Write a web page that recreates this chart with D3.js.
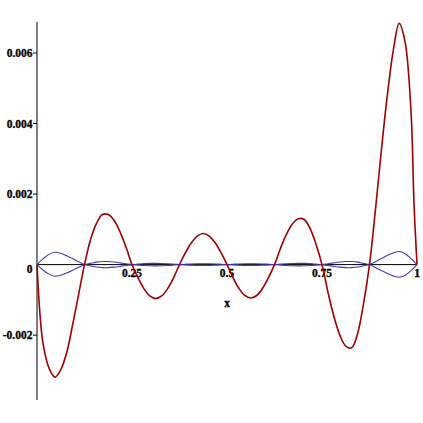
<!DOCTYPE html>
<html>
<head>
<meta charset="utf-8">
<script src="https://cdn.jsdelivr.net/npm/d3@7"></script>
<style>
  html, body { margin: 0; padding: 0; background: #ffffff; }
  svg { display: block; }
</style>
</head>
<body>
<svg id="chart" width="423" height="423"></svg>
<script>
// ---- data ----
const redX = [0, 0.0078, 0.0156, 0.0313, 0.0469, 0.0625, 0.0781, 0.0938, 0.1094, 0.125,
  0.1406, 0.1563, 0.1719, 0.1875, 0.2031, 0.2188, 0.2344, 0.25,
  0.2656, 0.2813, 0.2969, 0.3125, 0.3281, 0.3438, 0.3594, 0.375,
  0.3906, 0.4063, 0.4219, 0.4375, 0.4531, 0.4688, 0.4844, 0.5,
  0.5156, 0.5313, 0.5469, 0.5625, 0.5781, 0.5938, 0.6094, 0.625,
  0.6406, 0.6563, 0.6719, 0.6875, 0.7031, 0.7188, 0.7344, 0.75,
  0.7656, 0.7813, 0.7969, 0.8125, 0.8281, 0.8438, 0.8594, 0.875,
  0.8906, 0.9063, 0.9219, 0.9375, 0.9531, 0.9688, 0.9844, 0.9922, 1];
const redY = [0, -0.0014, -0.00222, -0.00293, -0.00319, -0.00298, -0.0025, -0.0017, -0.00085, 0,
  0.0007, 0.00116, 0.00142, 0.00142, 0.00125, 0.00092, 0.00049, 0,
  -0.00037, -0.00068, -0.00089, -0.000965, -0.00089, -0.00068, -0.00037, 0,
  0.000337, 0.00062, 0.00081, 0.00088, 0.00081, 0.00062, 0.000337, 0,
  -0.000363, -0.00067, -0.000876, -0.000948, -0.000876, -0.00067, -0.000363, 0,
  0.000456, 0.000855, 0.00115, 0.0013, 0.00128, 0.00102, 0.00057, 0,
  -0.00078, -0.00147, -0.002, -0.00231, -0.00236, -0.00195, -0.0011, 0,
  0.00155, 0.00325, 0.0048, 0.00607, 0.00684, 0.0063, 0.0043, 0.0017, 0];

const blueX = [0, 0.0156, 0.0313, 0.0469, 0.0625, 0.0781, 0.0938, 0.1094, 0.125,
  0.1406, 0.1563, 0.1719, 0.1875, 0.2031, 0.2188, 0.2344, 0.25,
  0.2656, 0.2813, 0.2969, 0.3125, 0.3281, 0.3438, 0.3594, 0.375,
  0.3906, 0.4063, 0.4219, 0.4375, 0.4531, 0.4688, 0.4844, 0.5,
  0.5156, 0.5313, 0.5469, 0.5625, 0.5781, 0.5938, 0.6094, 0.625,
  0.6406, 0.6563, 0.6719, 0.6875, 0.7031, 0.7188, 0.7344, 0.75,
  0.7656, 0.7813, 0.7969, 0.8125, 0.8281, 0.8438, 0.8594, 0.875,
  0.8906, 0.9063, 0.9219, 0.9375, 0.9531, 0.9688, 0.9844, 1];
const blueA = [0, 0.00016, 0.00029, 0.00035, 0.00032, 0.00025, 0.00017, 0.00008, 0,
  -0.000035, -0.00007, -0.000086, -0.000086, -0.000072, -0.00005, -0.000025, 0,
  0.000014, 0.000027, 0.000034, 0.000035, 0.000032, 0.000025, 0.000013, 0,
  -0.00001, -0.000019, -0.000024, -0.000025, -0.000024, -0.000019, -0.00001, 0,
  0.00001, 0.000019, 0.000024, 0.000025, 0.000024, 0.000019, 0.00001, 0,
  -0.000013, -0.000025, -0.000032, -0.000035, -0.000034, -0.000027, -0.000014, 0,
  0.000025, 0.00005, 0.000072, 0.000086, 0.000086, 0.00007, 0.000035, 0,
  -0.00008, -0.00017, -0.00025, -0.00032, -0.00036, -0.0003, -0.00017, 0];
const blueB = [0, -0.00015, -0.00027, -0.00033, -0.0003, -0.00024, -0.00016, -0.00008, 0,
  0.000035, 0.00007, 0.000086, 0.000086, 0.000072, 0.00005, 0.000025, 0,
  -0.000014, -0.000027, -0.000034, -0.000035, -0.000032, -0.000025, -0.000013, 0,
  0.00001, 0.000019, 0.000024, 0.000025, 0.000024, 0.000019, 0.00001, 0,
  -0.00001, -0.000019, -0.000024, -0.000025, -0.000024, -0.000019, -0.00001, 0,
  0.000013, 0.000025, 0.000032, 0.000035, 0.000034, 0.000027, 0.000014, 0,
  -0.000025, -0.00005, -0.000072, -0.000086, -0.000086, -0.00007, -0.000035, 0,
  0.00008, 0.00017, 0.00026, 0.00033, 0.00037, 0.00031, 0.00017, 0];

const xTicks = [0.25, 0.5, 0.75, 1];
const xTickLabels = ["0.25", "0.5", "0.75", "1"];
const yTicks = [-0.002, 0.002, 0.004, 0.006];
const yTickLabels = ["-0.002", "0.002", "0.004", "0.006"];
const xTitle = "x";

// ---- drawing ----
const svg = d3.select("#chart");
const x = d3.scaleLinear().domain([0, 1]).range([37, 417]);
const y = d3.scaleLinear().domain([-0.00384, 0.00688]).range([400, 22]);

const font = "'Liberation Serif', 'Times New Roman', serif";

// x axis (black)
svg.append("line")
  .attr("x1", x(0)).attr("x2", x(1))
  .attr("y1", y(0)).attr("y2", y(0))
  .attr("stroke", "#000").attr("stroke-width", 1);

// y axis (gray)
svg.append("line")
  .attr("x1", x(0)).attr("x2", x(0))
  .attr("y1", y.range()[1]).attr("y2", y.range()[0])
  .attr("stroke", "#808080").attr("stroke-width", 2);

// y ticks and labels
const yg = svg.append("g");
yg.selectAll("line").data(yTicks).enter().append("line")
  .attr("x1", x(0) - 4).attr("x2", x(0))
  .attr("y1", d => y(d)).attr("y2", d => y(d))
  .attr("stroke", "#000").attr("stroke-width", 1);
yg.selectAll("text").data(yTicks).enter().append("text")
  .attr("x", x(0) - 4.5).attr("y", d => y(d))
  .attr("dy", "0.35em")
  .attr("text-anchor", "end")
  .attr("font-family", font).attr("font-weight", "bold").attr("font-size", "11.5px")
  .attr("stroke", "#000").attr("stroke-width", 0.3)
  .text((d, i) => yTickLabels[i]);
// zero label
svg.append("text")
  .attr("x", x(0) - 4.5).attr("y", y(0) + 8)
  .attr("text-anchor", "end")
  .attr("font-family", font).attr("font-weight", "bold").attr("font-size", "11.5px")
  .attr("stroke", "#000").attr("stroke-width", 0.3)
  .text("0");

// x tick labels
svg.append("g").selectAll("text").data(xTicks).enter().append("text")
  .attr("x", d => x(d)).attr("y", y(0) + 12.5)
  .attr("text-anchor", "middle")
  .attr("font-family", font).attr("font-weight", "bold").attr("font-size", "11.5px")
  .attr("stroke", "#000").attr("stroke-width", 0.3)
  .text((d, i) => xTickLabels[i]);

// x title
svg.append("text")
  .attr("x", x(0.5)).attr("y", y(0) + 42)
  .attr("text-anchor", "middle")
  .attr("font-family", font).attr("font-weight", "bold").attr("font-size", "11.5px")
  .attr("stroke", "#000").attr("stroke-width", 0.3)
  .text(xTitle);

const lineGen = d3.line()
  .x(d => x(d[0])).y(d => y(d[1]))
  .curve(d3.curveCatmullRom.alpha(0.5));

// blue curves
[blueA, blueB].forEach(arr => {
  svg.append("path")
    .datum(blueX.map((v, i) => [v, arr[i]]))
    .attr("d", lineGen)
    .attr("fill", "none")
    .attr("stroke", "#3c3cb4")
    .attr("stroke-width", 1.1);
});

// red curve
svg.append("path")
  .datum(redX.map((v, i) => [v, redY[i]]))
  .attr("d", lineGen)
  .attr("fill", "none")
  .attr("stroke", "#a00000")
  .attr("stroke-width", 1.6);
</script>
</body>
</html>
